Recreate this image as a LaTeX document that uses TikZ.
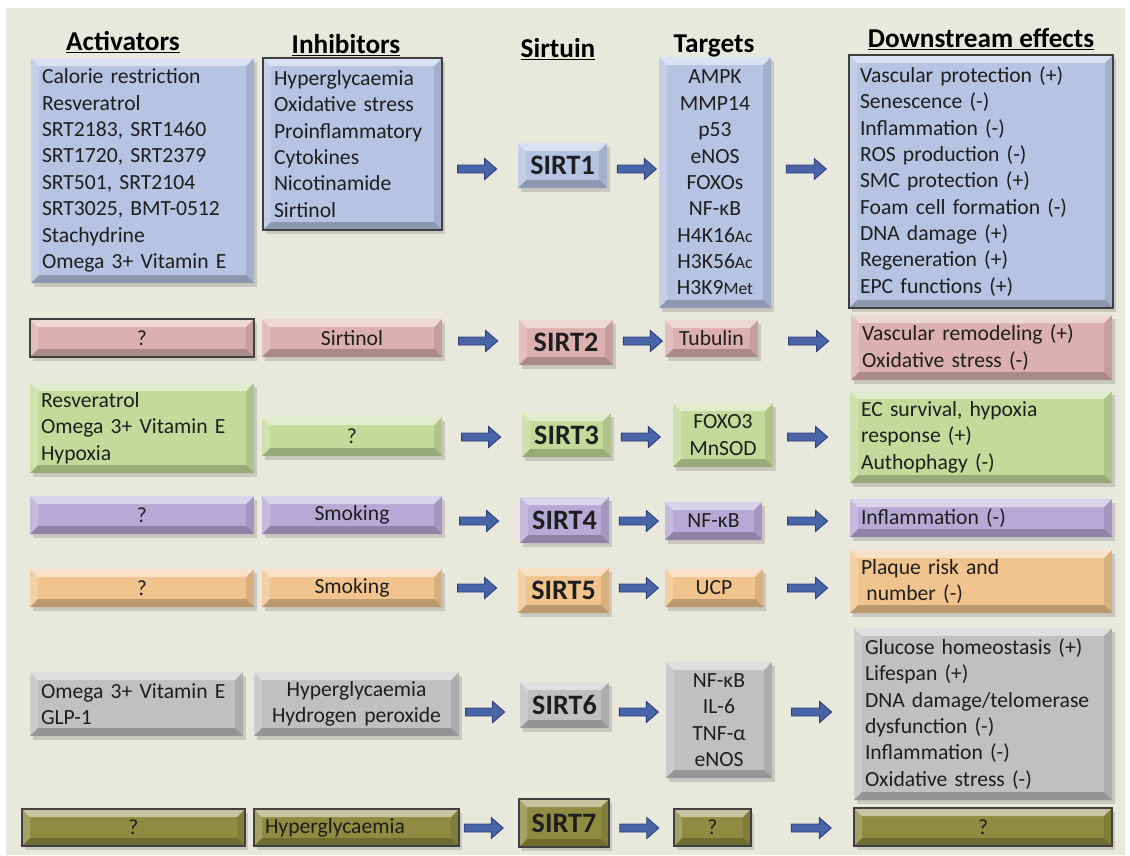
\documentclass[tikz,border=0pt]{standalone}
\usepackage{fontspec}
\setmainfont{Carlito}
\usetikzlibrary{calc,shadows}

\definecolor{bgbeige}{HTML}{E9E8DC}
\definecolor{ink}{HTML}{1E1E1E}
\definecolor{sirtblue}{HTML}{B5C4E2}
\definecolor{sirtpink}{HTML}{DCB0B0}
\definecolor{sirtgreen}{HTML}{C5DA9A}
\definecolor{sirtpurple}{HTML}{B5A9D6}
\definecolor{sirtorange}{HTML}{F1C48E}
\definecolor{sirtgray}{HTML}{C0C0C0}
\definecolor{sirtolive}{HTML}{8F8B40}
\definecolor{arrowblue}{HTML}{4A64A8}
\definecolor{arrowedge}{HTML}{2C3F78}

\newcommand\bodyfont{\fontsize{12.3}{15}\selectfont}
\newcommand\headfont{\fontsize{15.5}{18}\selectfont\bfseries}
\newcommand\sirtfont{\fontsize{16}{19}\selectfont\bfseries}
\newcommand\modmark[1]{{\fontsize{10}{12}\selectfont #1}}

\tikzset{
  bevel/.style={path picture={
      \coordinate (pa) at (path picture bounding box.north west);
      \coordinate (pb) at (path picture bounding box.north east);
      \coordinate (pc) at (path picture bounding box.south east);
      \coordinate (pd) at (path picture bounding box.south west);
      \fill[white, opacity=.5] (pa) -- (pb) -- ($(pb)+(-1.6mm,-1.6mm)$) -- ($(pa)+(1.6mm,-1.6mm)$) -- cycle;
      \fill[white, opacity=.2] (pa) -- ($(pa)+(1.6mm,-1.6mm)$) -- ($(pd)+(1.6mm,1.6mm)$) -- (pd) -- cycle;
      \fill[black, opacity=.1] (pb) -- (pc) -- ($(pc)+(-1.6mm,1.6mm)$) -- ($(pb)+(-1.6mm,-1.6mm)$) -- cycle;
      \fill[black, opacity=.22] (pd) -- ($(pd)+(1.6mm,1.6mm)$) -- ($(pc)+(-1.6mm,1.6mm)$) -- (pc) -- cycle;
    }},
  box/.style={rectangle, fill=#1, bevel, inner xsep=2.2mm, inner ysep=0pt,
    drop shadow={shadow xshift=0.5mm, shadow yshift=-0.7mm, opacity=0.3},
    font=\bodyfont, text=ink},
  sz/.style 2 args={/utils/exec={\pgfmathsetlengthmacro\boxtw{(#1-22)*0.2mm}},
    text width=\boxtw, minimum height=#2*0.2mm},
  darkedge/.style={draw=black!75, line width=0.9pt},
  sirtbox/.style={box=#1, font=\sirtfont, align=center},
  head/.style={font=\headfont, anchor=base, text=black},
  fatarrow/.style={fill=arrowblue, draw=arrowedge, line width=0.5pt,
    to path={let \p1=(\tikztostart), \p2=(\tikztotarget) in
      (\x1,\y1+0.8mm) -- (\x2-2.4mm,\y1+0.8mm) -- (\x2-2.4mm,\y1+2.1mm) -- (\x2,\y1)
      -- (\x2-2.4mm,\y1-2.1mm) -- (\x2-2.4mm,\y1-0.8mm) -- (\x1,\y1-0.8mm) -- cycle}}
}

\begin{document}
\begin{tikzpicture}[x=0.2mm, y=-0.2mm]
  \useasboundingbox (0,0) rectangle (1130,855);
  \fill[white] (0,0) rectangle (1130,855);
  \fill[bgbeige] (6,8) rectangle (1125,855);

  % column heads
  \node (h_act) [head] at (123,50) {\underline{Activators}};
  \node (h_inh) [head] at (346,53) {\underline{Inhibitors}};
  \node (h_sirt) [head] at (558,57) {\underline{Sirtuin}};
  \node (h_tgt) [head] at (714,52) {\underline{Targets}};
  \node (h_eff) [head] at (981,47) {\underline{Downstream effects}};

  % SIRT1
  \node (act1) [box=sirtblue, sz={223}{225}, align=left] at (142.5,170.5)
    {Calorie restriction\\Resveratrol\\SRT2183, SRT1460\\SRT1720, SRT2379\\SRT501, SRT2104\\SRT3025, BMT-0512\\Stachydrine\\Omega 3+ Vitamin E};
  \node (inh1) [box=sirtblue, darkedge, sz={179}{172}, align=left] at (352.5,144)
    {Hyperglycaemia\\Oxidative stress\\Proinflammatory\\Cytokines\\Nicotinamide\\Sirtinol};
  \node (sirt1) [sirtbox=sirtblue, sz={89}{45}] at (562.5,165.5) {SIRT1};
  \node (tgt1) [box=sirtblue, sz={112}{251}, align=center] at (715,182.5)
    {AMPK\\MMP14\\p53\\eNOS\\FOXOs\\NF-κB\\H4K16\modmark{Ac}\\H3K56\modmark{Ac}\\H3K9\modmark{Met}};
  \node (eff1) [box=sirtblue, darkedge, sz={264}{253}, align=left] at (981,181.5)
    {Vascular protection (+)\\Senescence (-)\\Inflammation (-)\\ROS production (-)\\SMC protection (+)\\Foam cell formation (-)\\DNA damage (+)\\Regeneration (+)\\EPC functions (+)};

  % SIRT2
  \node (act2) [box=sirtpink, darkedge, sz={224}{38}, align=center] at (142,338) {?};
  \node (inh2) [box=sirtpink, sz={180}{38}, align=center] at (352,338) {Sirtinol};
  \node (sirt2) [sirtbox=sirtpink, sz={94}{45}] at (566,342.5) {SIRT2};
  \node (tgt2) [box=sirtpink, sz={93}{37}, align=center] at (711.5,338.5) {Tubulin};
  \node (eff2) [box=sirtpink, sz={261}{65}, align=left] at (981.5,347.5)
    {Vascular remodeling (+)\\Oxidative stress (-)};

  % SIRT3
  \node (act3) [box=sirtgreen, sz={224}{90}, align=left] at (142,428)
    {Resveratrol\\Omega 3+ Vitamin E\\Hypoxia};
  \node (inh3) [box=sirtgreen, sz={180}{39}, align=center] at (352,436.5) {?};
  \node (sirt3) [sirtbox=sirtgreen, sz={89}{44}] at (566.5,435) {SIRT3};
  \node (tgt3) [box=sirtgreen, sz={100}{64}, align=center] at (723,435) {FOXO3\\MnSOD};
  \node (eff3) [box=sirtgreen, sz={262}{92}, align=left] at (981,437)
    {EC survival, hypoxia\\response (+)\\Authophagy (-)};

  % SIRT4
  \node (act4) [box=sirtpurple, sz={224}{38}, align=center] at (142,515) {?};
  \node (inh4) [box=sirtpurple, sz={180}{38}, align=center] at (352,515) {Smoking};
  \node (sirt4) [sirtbox=sirtpurple, sz={89}{46}] at (564.5,520) {SIRT4};
  \node (tgt4) [box=sirtpurple, sz={97}{38}, align=center] at (713.5,521) {NF-κB};
  \node (eff4) [box=sirtpurple, sz={262}{38}, align=left] at (981,518) {Inflammation (-)};

  % SIRT5
  \node (act5) [box=sirtorange, sz={224}{38}, align=center] at (142,588) {?};
  \node (inh5) [box=sirtorange, sz={180}{38}, align=center] at (352,588) {Smoking};
  \node (sirt5) [sirtbox=sirtorange, sz={91}{45}] at (563.5,590.5) {SIRT5};
  \node (tgt5) [box=sirtorange, sz={98}{38}, align=center] at (714,588) {UCP};
  \node (eff5) [box=sirtorange, sz={262}{63}, align=left] at (981,581.5)
    {Plaque risk and\\\hspace*{0.25em}number (-)};

  % SIRT6
  \node (act6) [box=sirtgray, sz={213}{64}, align=left] at (136.5,704)
    {Omega 3+ Vitamin E\\GLP-1};
  \node (inh6) [box=sirtgray, sz={205}{64}, align=center] at (356.5,704)
    {Hyperglycaemia\\Hydrogen peroxide};
  \node (sirt6) [sirtbox=sirtgray, sz={89}{46}] at (564.5,705) {SIRT6};
  \node (tgt6) [box=sirtgray, sz={106}{116}, align=center] at (719,720)
    {NF-κB\\IL-6\\TNF-α\\eNOS};
  \node (eff6) [box=sirtgray, sz={258}{172}, align=left] at (983,714)
    {Glucose homeostasis (+)\\Lifespan (+)\\DNA damage/telomerase\\dysfunction (-)\\Inflammation (-)\\Oxidative stress (-)};

  % SIRT7
  \node (act7) [box=sirtolive, darkedge, sz={223}{37}, align=center] at (133.5,827.5) {?};
  \node (inh7) [box=sirtolive, darkedge, sz={205}{37}, align=left] at (356.5,827.5) {Hyperglycaemia};
  \node (sirt7) [sirtbox=sirtolive, darkedge, sz={90}{48}] at (564,823) {SIRT7};
  \node (tgt7) [box=sirtolive, darkedge, sz={77}{37}, align=center] at (712.5,827.5) {?};
  \node (eff7) [box=sirtolive, darkedge, sz={258}{38}, align=center] at (983,827) {?};

  % arrows: regulators -> sirtuin -> targets -> effects
  \foreach \r/\dy/\ax in {1/3.5/0, 2/-1.5/0, 3/2/0, 4/1/0, 5/-2.5/0, 6/7/6, 7/5/6} {
    \draw[fatarrow] ($(sirt\r.west)+(-60+\ax,\dy)$) to ($(sirt\r.west)+(-21+\ax,\dy)$);
    \draw[fatarrow] ($(sirt\r.east)+(10,\dy)$) to ($(sirt\r.east)+(49,\dy)$);
    \draw[fatarrow] ($(eff\r.west |- sirt\r.east)+(-62,\dy)$) to ($(eff\r.west |- sirt\r.east)+(-22,\dy)$);
  }
\end{tikzpicture}
\end{document}
